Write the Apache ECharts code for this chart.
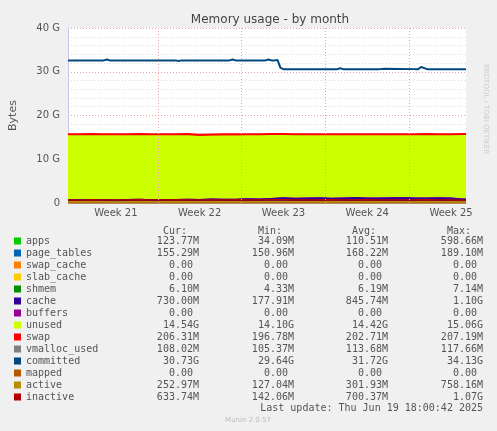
<!DOCTYPE html>
<html>
<head>
<meta charset="UTF-8">
<title>Memory usage - by month</title>
<script src="https://cdn.jsdelivr.net/npm/echarts@6/dist/echarts.min.js"></script>
<style>
  html, body { margin: 0; padding: 0; background: #f0f0f0; }
  #chart { width: 497px; height: 431px; }
</style>
</head>
<body>
<div id="chart"></div>
<script>
// x positions in half-days from the left edge of the plot
var xs = [0,2,4,6,8,10,12,14,16,18,20,22,24,26,28,30,32,34,36,38,40,42,44,46,48,50,52,54,56,58,60,62,64,66,66.5];
var weekTicks = {8: 'Week 21', 22: 'Week 22', 36: 'Week 23', 50: 'Week 24', 64: 'Week 25'};
var weekBounds = [15, 29, 43, 57];

// values in GB
var apps =        [0.11,0.10,0.12,0.11,0.10,0.11,0.12,0.11,0.10,0.11,0.12,0.11,0.10,0.11,0.12,0.11,0.10,0.11,0.12,0.11,0.10,0.11,0.12,0.11,0.10,0.11,0.12,0.11,0.10,0.11,0.12,0.11,0.10,0.12,0.12];
var pageTables =  [0.17,0.17,0.17,0.17,0.17,0.17,0.17,0.17,0.17,0.17,0.17,0.17,0.17,0.17,0.17,0.17,0.17,0.17,0.16,0.16,0.16,0.16,0.16,0.16,0.16,0.16,0.16,0.16,0.16,0.16,0.16,0.16,0.16,0.16,0.16];
var swapCache =   [0,0,0,0,0,0,0,0,0,0,0,0,0,0,0,0,0,0,0,0,0,0,0,0,0,0,0,0,0,0,0,0,0,0,0];
var slabCache =   [0,0,0,0,0,0,0,0,0,0,0,0,0,0,0,0,0,0,0,0,0,0,0,0,0,0,0,0,0,0,0,0,0,0,0];
var shmem =       [0.006,0.006,0.006,0.006,0.006,0.006,0.006,0.006,0.006,0.006,0.006,0.006,0.006,0.006,0.006,0.006,0.006,0.006,0.006,0.006,0.006,0.006,0.006,0.006,0.006,0.006,0.006,0.006,0.006,0.006,0.006,0.006,0.006,0.006,0.006];
var cache =       [0.55,0.60,0.50,0.65,0.55,0.60,0.70,0.55,0.60,0.65,0.70,0.60,0.75,0.70,0.65,0.80,0.75,0.85,1.05,0.95,1.00,1.05,0.90,1.00,1.10,1.00,0.95,1.05,1.10,1.00,0.95,1.05,1.00,0.73,0.73];
var buffers =     [0,0,0,0,0,0,0,0,0,0,0,0,0,0,0,0,0,0,0,0,0,0,0,0,0,0,0,0,0,0,0,0,0,0,0];
var unused =      [14.70,14.65,14.75,14.60,14.70,14.65,14.55,14.70,14.65,14.60,14.55,14.50,14.45,14.50,14.55,14.45,14.50,14.45,14.25,14.30,14.25,14.20,14.35,14.25,14.15,14.25,14.30,14.20,14.15,14.25,14.30,14.20,14.25,14.54,14.54];
var swap =        [0.20,0.20,0.20,0.20,0.20,0.20,0.20,0.20,0.20,0.20,0.20,0.20,0.20,0.20,0.20,0.20,0.20,0.20,0.20,0.20,0.20,0.20,0.20,0.20,0.20,0.20,0.20,0.20,0.20,0.20,0.21,0.21,0.21,0.21,0.21];
var vmallocUsed = [0.11,0.11,0.11,0.11,0.11,0.11,0.11,0.11,0.11,0.11,0.11,0.11,0.11,0.11,0.11,0.11,0.11,0.11,0.11,0.11,0.11,0.11,0.11,0.11,0.11,0.11,0.11,0.11,0.11,0.11,0.11,0.11,0.11,0.11,0.11];
var mapped =      [0,0,0,0,0,0,0,0,0,0,0,0,0,0,0,0,0,0,0,0,0,0,0,0,0,0,0,0,0,0,0,0,0,0,0];
var active =      [0.30,0.28,0.32,0.30,0.25,0.30,0.35,0.28,0.30,0.32,0.30,0.28,0.33,0.30,0.31,0.29,0.30,0.32,0.35,0.30,0.28,0.31,0.33,0.30,0.29,0.32,0.30,0.31,0.28,0.30,0.32,0.29,0.30,0.25,0.25];
var inactive =    [0.70,0.65,0.72,0.68,0.66,0.70,0.74,0.68,0.70,0.72,0.69,0.67,0.71,0.70,0.73,0.69,0.70,0.72,0.75,0.70,0.68,0.71,0.73,0.70,0.69,0.72,0.70,0.71,0.68,0.70,0.72,0.69,0.70,0.63,0.63];

var commitX = [0,6,6.5,7,12,18,18.5,19,26,27,27.5,28,33,33.5,34,34.5,35,35.5,36,44,45,45.5,46,52,53,58,58.5,59,60,66.5];
var commitY = [32.6,32.6,32.8,32.6,32.6,32.6,32.45,32.6,32.6,32.6,32.8,32.6,32.6,32.8,32.6,32.6,32.7,30.9,30.6,30.6,30.6,30.8,30.6,30.6,30.7,30.6,30.6,31.1,30.6,30.6];

// legend table
var legNames = ['apps','page_tables','swap_cache','slab_cache','shmem','cache','buffers','unused','swap','vmalloc_used','committed','mapped','active','inactive'];
var legColors = ['#00cc00','#0066b3','#ff8000','#ffcc00','#008f00','#330099','#990099','#ccff00','#ff0000','#808080','#00487d','#b35a00','#b38f00','#b30000'];
var legCur = ['123.77M','155.29M','0.00 ','0.00 ','6.10M','730.00M','0.00 ','14.54G','206.31M','108.02M','30.73G','0.00 ','252.97M','633.74M'];
var legMin = ['34.09M','150.96M','0.00 ','0.00 ','4.33M','177.91M','0.00 ','14.10G','196.78M','105.37M','29.64G','0.00 ','127.04M','142.06M'];
var legAvg = ['110.51M','168.22M','0.00 ','0.00 ','6.19M','845.74M','0.00 ','14.42G','202.71M','113.68M','31.72G','0.00 ','301.93M','700.37M'];
var legMax = ['598.66M','189.10M','0.00 ','0.00 ','7.14M','1.10G','0.00 ','15.06G','207.19M','117.66M','34.13G','0.00 ','758.16M','1.07G'];

// stacked areas: compute running totals, paint the tallest first so lower layers sit on top
var stacked = [['apps', apps], ['page_tables', pageTables], ['swap_cache', swapCache], ['slab_cache', slabCache],
  ['shmem', shmem], ['cache', cache], ['buffers', buffers], ['unused', unused], ['swap', swap]];
var run = xs.map(function () { return 0; });
var layers = stacked.map(function (s) {
  run = run.map(function (v, i) { return v + s[1][i]; });
  return {name: s[0], data: xs.map(function (x, i) { return [x, run[i]]; })};
});
var series = layers.reverse().map(function (l) {
  var c = legColors[legNames.indexOf(l.name)];
  return {
    name: l.name, type: 'line', symbol: 'none', data: l.data,
    lineStyle: {width: l.name === 'swap' ? 2 : 0, color: c}, areaStyle: {color: c, opacity: 1}
  };
});
var lines = [['vmalloc_used', vmallocUsed, xs], ['committed', commitY, commitX], ['mapped', mapped, xs], ['active', active, xs], ['inactive', inactive, xs]];
lines.forEach(function (s) {
  series.push({
    name: s[0], type: 'line', symbol: 'none', data: s[1].map(function (v, i) { return [s[2][i], v]; }),
    lineStyle: {width: s[0] === 'committed' ? 2 : 1.5, color: legColors[legNames.indexOf(s[0])]}
  });
});
series.push({
  type: 'line', data: [], silent: true,
  markLine: {
    silent: true, symbol: 'none', label: {show: false},
    lineStyle: {color: '#f0a0a0', type: [1, 2], width: 1},
    data: weekBounds.map(function (b) { return {xAxis: b}; })
  }
});

var mono = 'DejaVu Sans Mono';
var graphics = [];
var colX = [199, 294, 388, 483];
var heads = ['Cur:', 'Min:', 'Avg:', 'Max:'];
heads.forEach(function (h, j) {
  graphics.push({type: 'text', x: colX[j] - 24, y: 231, style: {text: h, font: '10px ' + mono, fill: '#555', textAlign: 'center', textVerticalAlign: 'middle'}});
});
legNames.forEach(function (n, i) {
  var y = 241 + i * 12;
  graphics.push({type: 'rect', shape: {x: 14, y: y - 3.5, width: 7, height: 7}, style: {fill: legColors[i]}});
  graphics.push({type: 'text', x: 26, y: y, style: {text: n, font: '10px ' + mono, fill: '#555', textVerticalAlign: 'middle'}});
  [legCur, legMin, legAvg, legMax].forEach(function (col, j) {
    graphics.push({type: 'text', x: colX[j], y: y, style: {text: col[i], font: '10px ' + mono, fill: '#555', textAlign: 'right', textVerticalAlign: 'middle'}});
  });
});
graphics.push({type: 'text', x: 483, y: 408, style: {text: 'Last update: Thu Jun 19 18:00:42 2025', font: '10px ' + mono, fill: '#555', textAlign: 'right', textVerticalAlign: 'middle'}});
graphics.push({type: 'text', x: 248, y: 420, style: {text: 'Munin 2.0.57', font: '7px DejaVu Sans', fill: '#bbb', textAlign: 'center', textVerticalAlign: 'middle'}});
graphics.push({type: 'text', x: 486, y: 64, rotation: -Math.PI / 2, style: {text: 'RRDTOOL / TOBI OETIKER', font: '7px DejaVu Sans', fill: '#ccc', textVerticalAlign: 'middle'}});

var chart = echarts.init(document.getElementById('chart'));
chart.setOption({
  animation: false,
  backgroundColor: '#f0f0f0',
  title: {text: 'Memory usage - by month', left: 265, top: 9, textAlign: 'center',
    textStyle: {fontFamily: 'DejaVu Sans', fontSize: 12, fontWeight: 'normal', color: '#444'}},
  grid: {left: 67, right: 31, top: 28, bottom: 228, backgroundColor: '#fff', show: true, borderWidth: 0},
  xAxis: [{
    type: 'value', min: 0, max: 66.5, interval: 1,
    axisLine: {lineStyle: {color: '#c8c8e8'}}, axisTick: {show: false}, splitLine: {show: false},
    axisLabel: {color: '#555', fontFamily: 'DejaVu Sans', fontSize: 10, margin: 5,
      formatter: function (v) { return weekTicks[v] || ''; }}
  }, {
    type: 'value', min: 0, max: 66.5, interval: 7 / 3, show: false,
    splitLine: {show: true, lineStyle: {color: '#ddd', type: [1, 2]}}
  }],
  yAxis: {
    type: 'value', min: 0, max: 40, interval: 10,
    name: 'Bytes', nameLocation: 'middle', nameGap: 49,
    nameTextStyle: {color: '#555', fontFamily: 'DejaVu Sans', fontSize: 11},
    axisLine: {show: true, lineStyle: {color: '#c8c8e8'}}, axisTick: {show: false},
    axisLabel: {color: '#555', fontFamily: 'DejaVu Sans', fontSize: 10, margin: 8,
      formatter: function (v) { return v === 0 ? '0' : v + ' G'; }},
    splitLine: {lineStyle: {color: '#f0a0a0', type: [1, 2]}},
    minorTick: {show: false, splitNumber: 5},
    minorSplitLine: {show: true, lineStyle: {color: '#ddd', type: [1, 2]}}
  },
  series: series,
  graphic: graphics
});
</script>
</body>
</html>
